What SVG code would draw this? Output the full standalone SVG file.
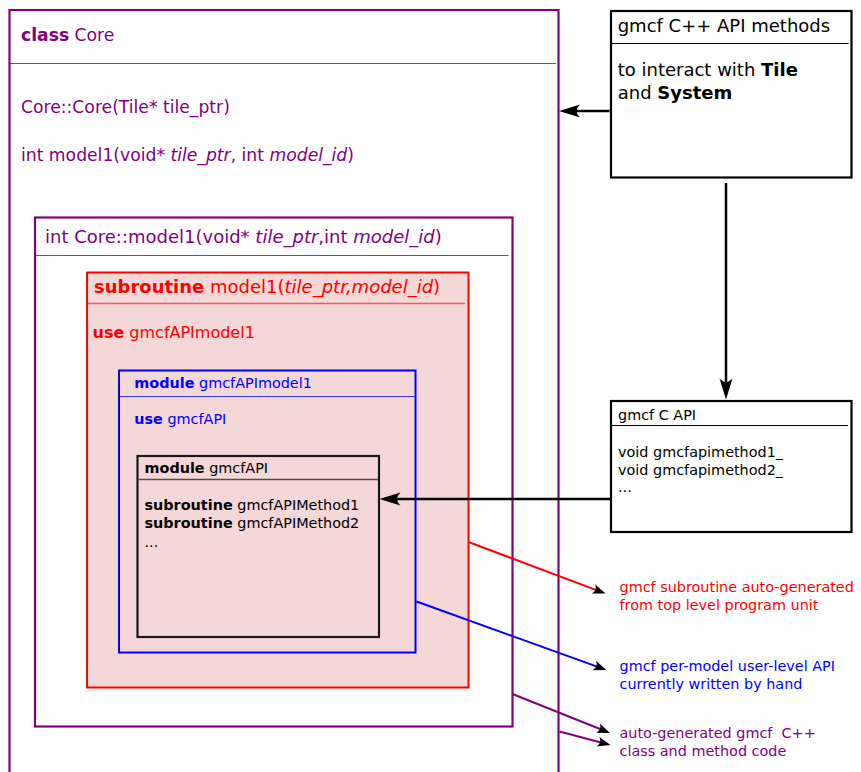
<svg xmlns="http://www.w3.org/2000/svg" width="861" height="772" viewBox="0 0 861 772">
<style>
text{font-family:"DejaVu Sans","Liberation Sans",sans-serif}
.b{font-weight:bold}
.i{font-style:italic}
.pu{fill:#800080}
.rd{fill:#ff0000}
.bl{fill:#0000ff}
.bk{fill:#000000}
.s144{font-size:14.4px}
.s16{font-size:16px}
.s17{font-size:17.2px}
.s18{font-size:18px}
</style>
<defs>
<marker id="big" markerUnits="userSpaceOnUse" orient="auto" refX="-5" refY="0" markerWidth="30" markerHeight="20" overflow="visible">
<path d="M0,0 L-21,-6.5 C-16.5,-2 -16.5,2 -21,6.5 Z" fill="#000"/>
</marker>
<marker id="small" markerUnits="userSpaceOnUse" orient="auto" refX="-4" refY="0" markerWidth="20" markerHeight="14" overflow="visible">
<path d="M0,0 L-13,-5 C-10,-1.5 -10,1.5 -13,5 Z" fill="#000"/>
</marker>
</defs>

<g id="class-core">
<path d="M9.5,772 V10 H558.5 V772" fill="none" stroke="#800080" stroke-width="2.2"/>
<line x1="10" y1="63.5" x2="556" y2="63.5" stroke="#800080" stroke-width="1" stroke-opacity="0.8"/>
<text x="21" y="41" class="s17 pu"><tspan class="b">class</tspan> Core</text>
<text x="21" y="112.5" class="s17 pu">Core::Core(Tile* tile_ptr)</text>
<text x="21" y="160.5" class="s17 pu">int model1(void* <tspan class="i">tile_ptr</tspan>, int <tspan class="i">model_id</tspan>)</text>
</g>

<g id="core-model1">
<rect x="35" y="217.5" width="477.5" height="509" fill="none" stroke="#800080" stroke-width="2.2"/>
<line x1="36" y1="255.5" x2="508.5" y2="255.5" stroke="#800080" stroke-width="1" stroke-opacity="0.8"/>
<text x="45" y="242.5" class="s18 pu">int Core::model1(void* <tspan class="i">tile_ptr</tspan>,int <tspan class="i">model_id</tspan>)</text>
</g>

<g id="subroutine-model1">
<rect x="87" y="272.5" width="381.5" height="415" fill="#f4d7d7" stroke="#ff0000" stroke-width="2"/>
<line x1="88" y1="303.5" x2="465" y2="303.5" stroke="#ff5555" stroke-width="1.3"/>
<text x="94" y="292.5" class="s18 rd"><tspan class="b">subroutine</tspan> model1(<tspan class="i">tile_ptr,model_id</tspan>)</text>
<text x="92.5" y="337.5" class="s16 rd"><tspan class="b">use</tspan> gmcfAPImodel1</text>
</g>

<g id="module-gmcfAPImodel1">
<rect x="119" y="370.5" width="296.5" height="282" fill="none" stroke="#0000ff" stroke-width="2"/>
<line x1="120" y1="396.5" x2="414.5" y2="396.5" stroke="#3333ff" stroke-width="1"/>
<text x="134.3" y="388.3" class="s144 bl"><tspan class="b">module</tspan> gmcfAPImodel1</text>
<text x="134.3" y="424.3" class="s144 bl"><tspan class="b">use</tspan> gmcfAPI</text>
</g>

<g id="module-gmcfAPI">
<rect x="137.5" y="456" width="241.5" height="181" fill="none" stroke="#1a1a1a" stroke-width="2.2"/>
<line x1="138.5" y1="479.5" x2="378" y2="479.5" stroke="#4d4d4d" stroke-width="1.3"/>
<text x="144.5" y="473.3" class="s144 bk"><tspan class="b">module</tspan> gmcfAPI</text>
<text x="144.5" y="510" class="s144 bk"><tspan class="b">subroutine</tspan> gmcfAPIMethod1</text>
<text x="144.5" y="527.8" class="s144 bk"><tspan class="b">subroutine</tspan> gmcfAPIMethod2</text>
<text x="144.5" y="546.5" class="s144 bk">...</text>
</g>

<g id="cpp-api">
<rect x="611" y="11" width="240.5" height="166.5" fill="#ffffff" stroke="#000" stroke-width="2.2"/>
<line x1="612" y1="43.5" x2="848.5" y2="43.5" stroke="#000" stroke-width="1"/>
<text x="617.7" y="31.5" class="s18 bk">gmcf C++ API methods</text>
<text x="617.7" y="76" class="s18 bk">to interact with <tspan class="b">Tile</tspan></text>
<text x="617.7" y="99" class="s18 bk">and <tspan class="b">System</tspan></text>
</g>

<g id="c-api">
<rect x="611" y="401" width="240.5" height="131" fill="#ffffff" stroke="#000" stroke-width="2.2"/>
<line x1="612" y1="425.5" x2="848" y2="425.5" stroke="#000" stroke-width="1"/>
<text x="618" y="420" class="s144 bk">gmcf C API</text>
<text x="618" y="457" class="s144 bk">void gmcfapimethod1_</text>
<text x="618" y="475" class="s144 bk">void gmcfapimethod2_</text>
<text x="618" y="492" class="s144 bk">...</text>
</g>

<g id="notes">
<text x="619.5" y="591.7" class="s144 rd">gmcf subroutine auto-generated</text>
<text x="619.5" y="609.5" class="s144 rd">from top level program unit</text>
<text x="619.5" y="671" class="s144 bl">gmcf per-model user-level API</text>
<text x="619.5" y="689" class="s144 bl">currently written by hand</text>
<text x="619.5" y="737.7" class="s144 pu" xml:space="preserve">auto-generated gmcf  C++</text>
<text x="619.5" y="755.7" class="s144 pu">class and method code</text>
</g>

<g id="connectors" fill="none">
<line x1="609.5" y1="111" x2="564" y2="111" stroke="#000" stroke-width="2.5" marker-end="url(#big)"/>
<line x1="726" y1="183" x2="726" y2="394.5" stroke="#000" stroke-width="2.5" marker-end="url(#big)"/>
<line x1="610" y1="499" x2="384.5" y2="499" stroke="#000" stroke-width="2.5" marker-end="url(#big)"/>
<line x1="468.5" y1="542" x2="601.8" y2="592.1" stroke="#ff0000" stroke-width="2" marker-end="url(#small)"/>
<line x1="416.5" y1="601.5" x2="602.7" y2="668.6" stroke="#0000ff" stroke-width="2" marker-end="url(#small)"/>
<line x1="512.5" y1="694" x2="606.3" y2="731.5" stroke="#800080" stroke-width="2" marker-end="url(#small)"/>
<line x1="559.5" y1="731.5" x2="606.6" y2="744" stroke="#800080" stroke-width="2" marker-end="url(#small)"/>
</g>
</svg>
